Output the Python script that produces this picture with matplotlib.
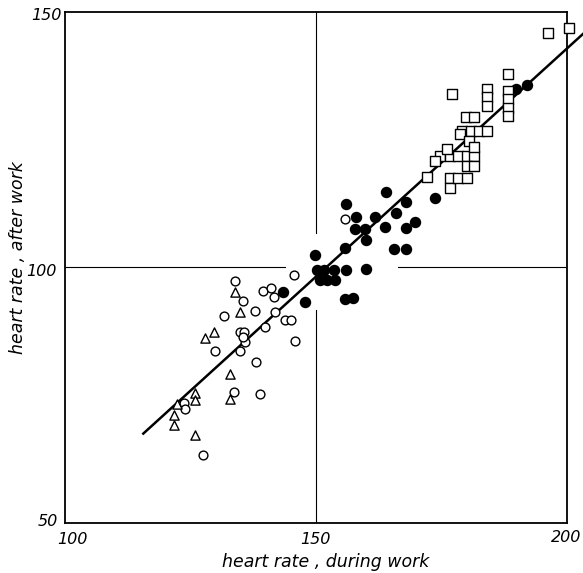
import numpy as np
import matplotlib.pyplot as plt

# pontos: (frequencia durante o trabalho, frequencia apos o trabalho)
circ_x = [133.8, 145.7, 139.5, 141.1, 141.7, 135.5, 137.8, 131.7, 141.9, 139.9,
          143.9, 145.1, 145.9, 134.8, 135.6, 135.9, 135.4, 129.9, 134.9, 138.1,
          133.7, 138.8, 123.7, 123.9, 127.5, 155.7]
circ_y = [97.4, 98.6, 95.4, 95.9, 94.3, 93.4, 91.5, 90.6, 91.2, 88.4,
          89.7, 89.7, 85.7, 87.4, 87.4, 85.4, 86.4, 83.7, 83.6, 81.6,
          75.7, 75.3, 73.5, 72.3, 63.4, 109.5]

tri_x = [133.8, 134.8, 127.8, 129.7, 132.9, 132.9, 125.8, 125.8, 122.4, 121.8,
         121.8, 125.9]
tri_y = [95.3, 91.3, 86.3, 87.4, 79.1, 74.3, 75.5, 74.0, 73.3, 71.2,
         69.2, 67.2]

dot_x = [163.9, 155.9, 158.0, 161.8, 165.9, 168.0, 169.8, 167.9, 163.7, 157.8,
         159.8, 159.9, 155.8, 165.6, 167.9, 149.8, 150.1, 151.6, 153.5, 150.7,
         152.1, 153.8, 155.9, 159.9, 143.5, 147.8, 155.7, 157.3, 173.8, 189.9,
         192.1]
dot_y = [114.8, 112.5, 109.8, 109.9, 110.6, 112.9, 108.9, 107.8, 107.9, 107.6,
         107.6, 105.4, 103.9, 103.6, 103.6, 102.5, 99.5, 99.5, 99.5, 97.6,
         97.6, 97.6, 99.5, 99.7, 95.3, 93.3, 93.8, 94.0, 113.6, 135.0,
         135.8]

sq_x = [196.3, 200.3, 188.3, 177.1, 184.1, 184.1, 184.1, 188.3, 188.3, 188.3,
        188.3, 179.9, 181.5, 179.1, 180.8, 182.5, 184.1, 178.6, 180.5, 174.8,
        176.7, 178.3, 180.0, 181.5, 176.1, 181.5, 173.8, 172.1, 176.7, 176.7,
        178.3, 180.1, 180.0, 181.4]
sq_y = [145.8, 146.8, 137.9, 133.9, 135.0, 133.3, 131.7, 134.6, 132.9, 131.2,
        129.6, 129.5, 129.5, 126.8, 126.8, 126.8, 126.8, 126.1, 124.8, 121.9,
        121.9, 121.9, 121.9, 121.9, 123.2, 123.5, 120.9, 117.7, 117.6, 115.6,
        117.6, 117.6, 119.9, 119.9]

# reta de regressao (extremos)
reta_x = [115.6, 203.4]
reta_y = [67.5, 145.9]

# rotulos dos eixos e suas posicoes aproximadas (pixels da figura)
W, H = 583, 573
rot_y = [('150', 62, 15), ('100', 57, 272), ('50', 58, 521)]
rot_x = [('100', 72, 539), ('150', 315, 539), ('200', 566, 538)]

fonte = dict(family='DejaVu Sans', style='italic')

fig = plt.figure(figsize=(5.83, 5.73), dpi=100)
ax = fig.add_axes([65 / W, 1 - 523 / H, 502 / W, 511 / H])

# linhas de referencia interrompidas na nuvem de pontos
ax.plot([100, 143.8], [100, 100], color='black', lw=0.8)
ax.plot([166.4, 200], [100, 100], color='black', lw=0.8)
ax.plot([150, 150], [106.7, 150], color='black', lw=0.8)
ax.plot([150, 150], [50, 91.7], color='black', lw=0.8)

ax.plot(reta_x, reta_y, color='black', lw=1.8, clip_on=False, zorder=3)

ax.scatter(circ_x, circ_y, s=40, marker='o', facecolors='white',
           edgecolors='black', linewidths=1.0, zorder=4)
ax.scatter(tri_x, tri_y, s=44, marker='^', facecolors='white',
           edgecolors='black', linewidths=1.0, zorder=4)
ax.scatter(dot_x, dot_y, s=52, marker='o', color='black', zorder=4)
ax.scatter(sq_x, sq_y, s=50, marker='s', facecolors='white',
           edgecolors='black', linewidths=1.0, zorder=4, clip_on=False)

ax.set_xlim(100, 200)
ax.set_ylim(50, 150)
for s in ax.spines.values():
    s.set_linewidth(1.3)
ax.set_xticks([])
ax.set_yticks([])

for t, px, py in rot_y:
    fig.text(px / W, 1 - py / H, t, ha='right', va='center', fontsize=11.5, **fonte)
for t, px, py in rot_x:
    fig.text(px / W, 1 - py / H, t, ha='center', va='center', fontsize=11.5, **fonte)

fig.text(326 / W, 1 - 562 / H, 'heart rate , during work', ha='center',
         va='center', fontsize=12.5, **fonte)
fig.text(18 / W, 1 - 258 / H, 'heart rate , after work', ha='center',
         va='center', rotation=90, fontsize=12.5, **fonte)

fig.savefig('out.png', dpi=100)
